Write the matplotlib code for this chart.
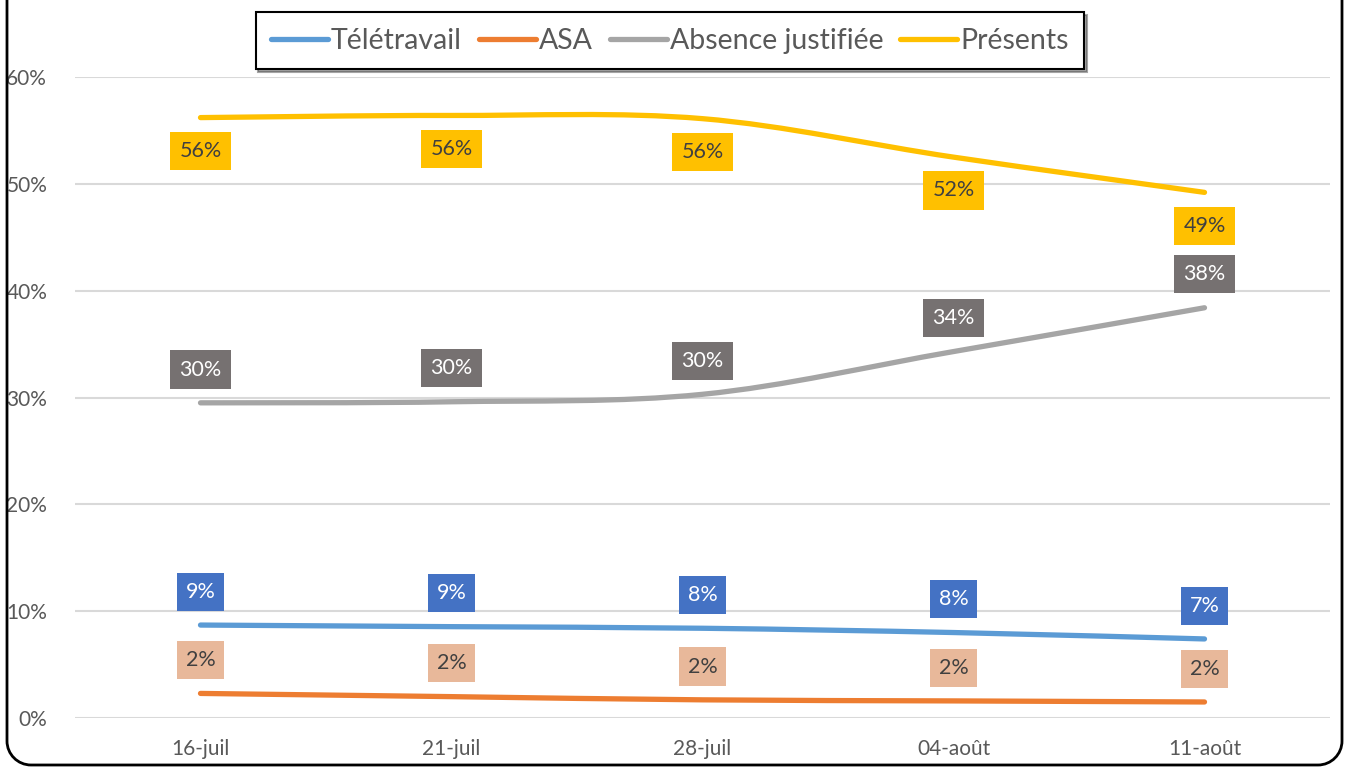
import numpy as np
import matplotlib
matplotlib.use("Agg")
import matplotlib.pyplot as plt
from matplotlib.path import Path
from matplotlib.patches import PathPatch
from matplotlib.transforms import IdentityTransform
from matplotlib.ticker import PercentFormatter

categories = ["16-juil", "21-juil", "28-juil", "04-août", "11-août"]
teletravail = [0.087, 0.0855, 0.084, 0.080, 0.074]
asa = [0.023, 0.020, 0.017, 0.016, 0.015]
absence = [0.295, 0.296, 0.303, 0.343, 0.384]
presents = [0.562, 0.564, 0.561, 0.525, 0.492]

series = [
    ("Télétravail", teletravail, "#5B9BD5", "#4472C4", "white", 1),
    ("ASA", asa, "#ED7D31", "#E8B89A", "#404040", 1),
    ("Absence justifiée", absence, "#A5A5A5", "#767171", "white", 1),
    ("Présents", presents, "#FFC000", "#FFC000", "#404040", -1),
]

plt.rcParams['font.family'] = ['Lato', 'DejaVu Sans']

fig = plt.figure(figsize=(13.46, 7.67), dpi=100)
ax = fig.add_axes([75/1346, 1-718/767, (1330-75)/1346, (718-77)/767])

def smooth_path(xs, ys):
    xs = np.asarray(xs, float); ys = np.asarray(ys, float)
    n = len(xs)
    px = np.concatenate([[xs[0]], xs, [xs[-1]]])
    py = np.concatenate([[ys[0]], ys, [ys[-1]]])
    verts = [(xs[0], ys[0])]
    codes = [Path.MOVETO]
    for i in range(n - 1):
        p0 = np.array([px[i], py[i]]); p1 = np.array([px[i+1], py[i+1]])
        p2 = np.array([px[i+2], py[i+2]]); p3 = np.array([px[i+3], py[i+3]])
        c1 = p1 + (p2 - p0) / 6
        c2 = p2 - (p3 - p1) / 6
        verts += [tuple(c1), tuple(c2), tuple(p2)]
        codes += [Path.CURVE4] * 3
    return Path(verts, codes)

x = np.arange(len(categories))
for name, vals, lc, bc, tc, direction in series:
    patch = PathPatch(smooth_path(x, vals), facecolor="none", edgecolor=lc,
                      lw=3.8, capstyle="round", joinstyle="round", zorder=3)
    ax.add_patch(patch)
    ax.plot([], [], color=lc, lw=3.8, solid_capstyle="round", label=name)
    for xi, v in zip(x, vals):
        ax.annotate(f"{round(v*100):d}%", (xi, v), xytext=(0, 24 * direction),
                    textcoords="offset points", ha="center", va="center",
                    fontsize=15.5, color=tc, zorder=4,
                    bbox=dict(boxstyle="square,pad=0.42", fc=bc, ec="none"))

ax.set_xlim(-0.5, len(categories) - 0.5)
ax.set_ylim(0, 0.6)
ax.set_yticks(np.arange(0, 0.61, 0.1))
ax.yaxis.set_major_formatter(PercentFormatter(1.0, decimals=0))
ax.set_xticks(x)
ax.set_xticklabels(categories)
ax.tick_params(axis="both", length=0, labelsize=15, colors="#595959")
ax.tick_params(axis="x", pad=15)
ax.tick_params(axis="y", pad=20)
ax.grid(axis="y", color="#D9D9D9", lw=1.5)
ax.set_axisbelow(True)
for s in ax.spines.values():
    s.set_visible(False)

leg = fig.legend(loc="upper center", bbox_to_anchor=(670/1346, 1-12/767), ncol=4,
                 fontsize=20.5, frameon=True, fancybox=False, shadow=True,
                 edgecolor="black", handlelength=2.0, handletextpad=0.1,
                 columnspacing=0.6, borderpad=0.55, borderaxespad=0,
                 labelcolor="#595959")
leg.get_frame().set_linewidth(1.5)

r = 24
L, R, B, T = 7, 1342, 2, 900
k = 0.5523 * r
verts = [(L, T), (L, B + r), (L, B + r - k), (L + r - k, B), (L + r, B),
         (R - r, B), (R - r + k, B), (R, B + r - k), (R, B + r), (R, T)]
codes = [Path.MOVETO, Path.LINETO, Path.CURVE4, Path.CURVE4, Path.CURVE4,
         Path.LINETO, Path.CURVE4, Path.CURVE4, Path.CURVE4, Path.LINETO]
border = PathPatch(Path(verts, codes), transform=IdentityTransform(), fc="none",
                   ec="black", lw=2, clip_on=False)
fig.patches.append(border)

fig.savefig("out.png", dpi=100)
